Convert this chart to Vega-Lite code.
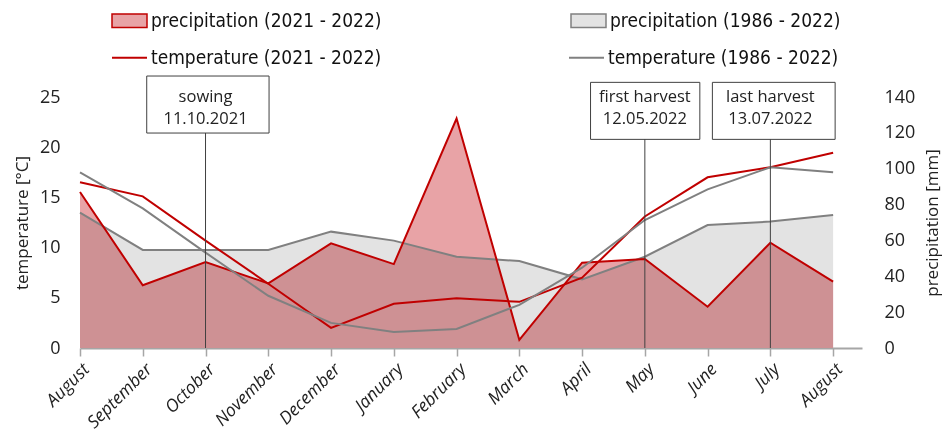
{
  "$schema": "https://vega.github.io/schema/vega-lite/v6.json",
  "width": 782,
  "height": 251,
  "autosize": {"type": "none"},
  "padding": {"left": 80, "top": 97, "right": 88, "bottom": 97},
  "background": "white",
  "config": {
    "view": {"stroke": null},
    "axis": {"grid": false, "labelFont": "Open Sans", "titleFont": "Open Sans", "labelColor": "#222222", "titleColor": "#222222", "titleFontWeight": "normal"},
    "legend": {"labelFont": "DejaVu Sans Condensed", "labelFontSize": 19, "labelColor": "#111111", "labelLimit": 500}
  },
  "datasets": {
    "precipitation": [
      {"i": 0, "month": "August", "series": "precipitation (2021 - 2022)", "value": 87},
      {"i": 1, "month": "September", "series": "precipitation (2021 - 2022)", "value": 35},
      {"i": 2, "month": "October", "series": "precipitation (2021 - 2022)", "value": 48},
      {"i": 3, "month": "November", "series": "precipitation (2021 - 2022)", "value": 36},
      {"i": 4, "month": "December", "series": "precipitation (2021 - 2022)", "value": 58.4},
      {"i": 5, "month": "January", "series": "precipitation (2021 - 2022)", "value": 46.8},
      {"i": 6, "month": "February", "series": "precipitation (2021 - 2022)", "value": 128},
      {"i": 7, "month": "March", "series": "precipitation (2021 - 2022)", "value": 4.5},
      {"i": 8, "month": "April", "series": "precipitation (2021 - 2022)", "value": 47.6},
      {"i": 9, "month": "May", "series": "precipitation (2021 - 2022)", "value": 49.6},
      {"i": 10, "month": "June", "series": "precipitation (2021 - 2022)", "value": 23},
      {"i": 11, "month": "July", "series": "precipitation (2021 - 2022)", "value": 58.7},
      {"i": 12, "month": "August", "series": "precipitation (2021 - 2022)", "value": 37},
      {"i": 0, "month": "August", "series": "precipitation (1986 - 2022)", "value": 75.5},
      {"i": 1, "month": "September", "series": "precipitation (1986 - 2022)", "value": 54.7},
      {"i": 2, "month": "October", "series": "precipitation (1986 - 2022)", "value": 54.7},
      {"i": 3, "month": "November", "series": "precipitation (1986 - 2022)", "value": 54.7},
      {"i": 4, "month": "December", "series": "precipitation (1986 - 2022)", "value": 64.9},
      {"i": 5, "month": "January", "series": "precipitation (1986 - 2022)", "value": 59.9},
      {"i": 6, "month": "February", "series": "precipitation (1986 - 2022)", "value": 50.9},
      {"i": 7, "month": "March", "series": "precipitation (1986 - 2022)", "value": 48.5},
      {"i": 8, "month": "April", "series": "precipitation (1986 - 2022)", "value": 38.3},
      {"i": 9, "month": "May", "series": "precipitation (1986 - 2022)", "value": 50.9},
      {"i": 10, "month": "June", "series": "precipitation (1986 - 2022)", "value": 68.6},
      {"i": 11, "month": "July", "series": "precipitation (1986 - 2022)", "value": 70.5},
      {"i": 12, "month": "August", "series": "precipitation (1986 - 2022)", "value": 74.2}
    ],
    "temperature": [
      {"i": 0, "month": "August", "series": "temperature (2021 - 2022)", "value": 16.5},
      {"i": 1, "month": "September", "series": "temperature (2021 - 2022)", "value": 15.1},
      {"i": 2, "month": "October", "series": "temperature (2021 - 2022)", "value": 10.7},
      {"i": 3, "month": "November", "series": "temperature (2021 - 2022)", "value": 6.4},
      {"i": 4, "month": "December", "series": "temperature (2021 - 2022)", "value": 2.0},
      {"i": 5, "month": "January", "series": "temperature (2021 - 2022)", "value": 4.4},
      {"i": 6, "month": "February", "series": "temperature (2021 - 2022)", "value": 4.95},
      {"i": 7, "month": "March", "series": "temperature (2021 - 2022)", "value": 4.6},
      {"i": 8, "month": "April", "series": "temperature (2021 - 2022)", "value": 7.0},
      {"i": 9, "month": "May", "series": "temperature (2021 - 2022)", "value": 13.1},
      {"i": 10, "month": "June", "series": "temperature (2021 - 2022)", "value": 17.0},
      {"i": 11, "month": "July", "series": "temperature (2021 - 2022)", "value": 18.0},
      {"i": 12, "month": "August", "series": "temperature (2021 - 2022)", "value": 19.45},
      {"i": 0, "month": "August", "series": "temperature (1986 - 2022)", "value": 17.5},
      {"i": 1, "month": "September", "series": "temperature (1986 - 2022)", "value": 13.9},
      {"i": 2, "month": "October", "series": "temperature (1986 - 2022)", "value": 9.5},
      {"i": 3, "month": "November", "series": "temperature (1986 - 2022)", "value": 5.2},
      {"i": 4, "month": "December", "series": "temperature (1986 - 2022)", "value": 2.5},
      {"i": 5, "month": "January", "series": "temperature (1986 - 2022)", "value": 1.6},
      {"i": 6, "month": "February", "series": "temperature (1986 - 2022)", "value": 1.9},
      {"i": 7, "month": "March", "series": "temperature (1986 - 2022)", "value": 4.3},
      {"i": 8, "month": "April", "series": "temperature (1986 - 2022)", "value": 8.0},
      {"i": 9, "month": "May", "series": "temperature (1986 - 2022)", "value": 12.75},
      {"i": 10, "month": "June", "series": "temperature (1986 - 2022)", "value": 15.8},
      {"i": 11, "month": "July", "series": "temperature (1986 - 2022)", "value": 18.0},
      {"i": 12, "month": "August", "series": "temperature (1986 - 2022)", "value": 17.5}
    ],
    "events": [
      {"i": 2, "event": "sowing", "date": "11.10.2021"},
      {"i": 9, "event": "first harvest", "date": "12.05.2022"},
      {"i": 11, "event": "last harvest", "date": "13.07.2022"}
    ]
  },
  "encoding": {
    "x": {
      "field": "i", "type": "quantitative",
      "scale": {"domain": [0, 12.46], "nice": false, "zero": false},
      "axis": {
        "title": null,
        "values": [0,1,2,3,4,5,6,7,8,9,10,11,12],
        "labelExpr": "['August','September','October','November','December','January','February','March','April','May','June','July','August'][datum.value]",
        "labelAngle": -45,
        "labelFontSize": 17.5,
        "labelFontStyle": "italic",
        "labelPadding": 4,
        "tickSize": 8,
        "tickColor": "#a6a6a6",
        "tickWidth": 1.5,
        "domainColor": "#a6a6a6",
        "domainWidth": 2,
        "labelFlush": false,
        "labelOverlap": false
      }
    }
  },
  "layer": [
    {
      "data": {"name": "precipitation"},
      "encoding": {
        "y": {"field": "value", "type": "quantitative", "scale": {"domain": [0, 140], "nice": false},
          "axis": {"orient": "right", "title": "precipitation [mm]", "values": [0,20,40,60,80,100,120,140], "labelOverlap": false, "domain": false, "ticks": false, "labelPadding": 22, "labelFontSize": 18, "titleFontSize": 17, "titleAngle": 270, "titleBaseline": "top", "titlePadding": 10}}
      },
      "layer": [
        {
          "transform": [{"filter": "datum.series == 'precipitation (1986 - 2022)'"}],
          "mark": {"type": "area", "opacity": 1},
          "encoding": {
            "fill": {"field": "series", "type": "nominal",
              "scale": {"domain": ["precipitation (2021 - 2022)", "precipitation (1986 - 2022)"], "range": ["#e8a3a6", "#e3e3e3"]},
              "legend": {"title": null, "orient": "none", "legendX": 31, "legendY": -95, "direction": "horizontal", "columns": 2, "columnPadding": 186,
                "symbolType": "M-1,-0.38H1V0.38H-1Z", "symbolSize": 1225, "symbolStrokeWidth": 1.5, "symbolOpacity": 1, "labelOffset": 3,
                "encode": {"symbols": {"update": {"stroke": {"signal": "datum.value == 'precipitation (2021 - 2022)' ? '#c00000' : '#808080'"}}}}}}
          }
        },
        {
          "transform": [{"filter": "datum.series == 'precipitation (2021 - 2022)'"}],
          "mark": {"type": "area", "opacity": 1, "blend": "multiply"},
          "encoding": {
            "fill": {"field": "series", "type": "nominal"}
          }
        },
        {
          "transform": [{"filter": "datum.series == 'precipitation (1986 - 2022)'"}],
          "mark": {"type": "line", "color": "#808080", "strokeWidth": 2}
        },
        {
          "transform": [{"filter": "datum.series == 'precipitation (2021 - 2022)'"}],
          "mark": {"type": "line", "color": "#c00000", "strokeWidth": 2}
        }
      ]
    },
    {
      "layer": [
        {
          "data": {"name": "temperature"},
          "mark": {"type": "line", "strokeWidth": 2},
          "encoding": {
            "y": {"field": "value", "type": "quantitative", "scale": {"domain": [0, 25], "nice": false},
              "axis": {"orient": "left", "title": "temperature [°C]", "values": [0,5,10,15,20,25], "labelOverlap": false, "domain": false, "ticks": false, "labelPadding": 20, "labelFontSize": 18, "titleFontSize": 17, "titlePadding": 8}},
            "stroke": {"field": "series", "type": "nominal",
              "scale": {"domain": ["temperature (2021 - 2022)", "temperature (1986 - 2022)"], "range": ["#c00000", "#808080"]},
              "legend": {"title": null, "orient": "none", "legendX": 31, "legendY": -58, "direction": "horizontal", "columns": 2, "columnPadding": 183,
                "symbolType": "stroke", "symbolSize": 1225, "symbolStrokeWidth": 2, "labelOffset": 3}}
          }
        },
        {
          "data": {"name": "events"},
          "mark": {"type": "rule", "color": "#404040", "strokeWidth": 1},
          "encoding": {
            "y": {"datum": 0, "type": "quantitative"},
            "y2": {"datum": 23.8}
          }
        },
        {
          "data": {"name": "events"},
          "mark": {"type": "point", "filled": true, "fill": "white", "fillOpacity": 1, "opacity": 1, "stroke": "#404040", "strokeWidth": 1, "size": 15129},
          "encoding": {
            "y": {"datum": 23.8, "type": "quantitative"},
            "shape": {"field": "event", "type": "nominal", "legend": null,
              "scale": {"domain": ["sowing", "first harvest", "last harvest"],
                "range": ["M-0.956,-0.537H1.033V0.39H-0.956Z", "M-0.883,-0.434H0.894V0.493H-0.883Z", "M-0.943,-0.434H1.053V0.493H-0.943Z"]}}
          }
        },
        {
          "data": {"name": "events"},
          "mark": {"type": "text", "font": "Open Sans", "fontSize": 16.5, "color": "#222222", "dy": -12},
          "encoding": {
            "y": {"datum": 23.8, "type": "quantitative"},
            "text": {"field": "event"}
          }
        },
        {
          "data": {"name": "events"},
          "mark": {"type": "text", "font": "Open Sans", "fontSize": 16.5, "color": "#222222", "dy": 10},
          "encoding": {
            "y": {"datum": 23.8, "type": "quantitative"},
            "text": {"field": "date"}
          }
        }
      ]
    }
  ],
  "resolve": {"scale": {"y": "independent"}}
}
